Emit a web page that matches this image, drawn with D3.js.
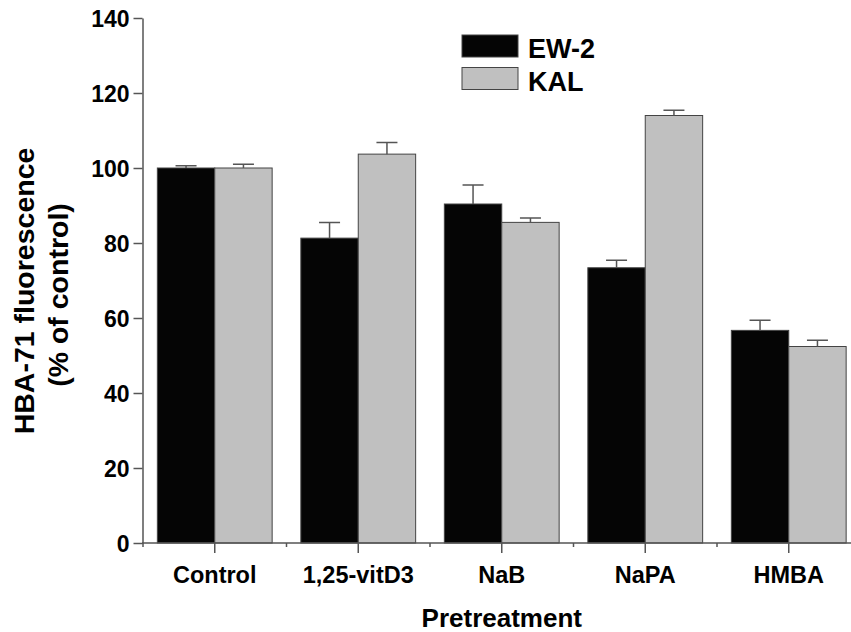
<!DOCTYPE html>
<html><head><meta charset="utf-8">
<script src="https://cdn.jsdelivr.net/npm/d3@7"></script>
<style>body{margin:0;background:#fff}svg{display:block}text{font-family:"Liberation Sans",Arial,sans-serif;font-weight:bold;fill:#000}</style>
</head><body><svg id="c" width="851" height="632"></svg>
<script>
const categories = ["Control", "1,25-vitD3", "NaB", "NaPA", "HMBA"];
const seriesNames = ["EW-2", "KAL"];
const ew2 = [100.0, 81.3, 90.4, 73.4, 56.7];
const ew2Err = [0.6, 4.2, 5.1, 2.0, 2.7];
const kal = [100.0, 103.7, 85.5, 114.0, 52.4];
const kalErr = [1.0, 3.1, 1.2, 1.4, 1.7];
const yTicks = [0, 20, 40, 60, 80, 100, 120, 140];
const colors = ["#050505", "#c0c0c0"];

const svg = d3.select("#c");
const x = d3.scaleBand().domain(categories).range([143, 860.5]).paddingInner(0.2).paddingOuter(0.1);
const xs = d3.scaleBand().domain(seriesNames).range([0, x.bandwidth()]);
const y = d3.scaleLinear().domain([0, 140]).range([543, 18]);

const data = categories.map((c, i) => ({c, vals: [
  {s: "EW-2", v: ew2[i], e: ew2Err[i]},
  {s: "KAL", v: kal[i], e: kalErr[i]}]}));

// bars
const g = svg.append("g");
const grp = g.selectAll("g.grp").data(data).join("g").attr("transform", d => `translate(${x(d.c)},0)`);
grp.selectAll("rect").data(d => d.vals).join("rect")
  .attr("x", d => xs(d.s)).attr("width", xs.bandwidth())
  .attr("y", d => y(d.v)).attr("height", d => y(0) - y(d.v))
  .attr("fill", (d, i) => colors[i]).attr("stroke", "#444").attr("stroke-width", 1);
// error bars
grp.selectAll("path.err").data(d => d.vals).join("path").attr("class", "err")
  .attr("d", d => {
    const cx = xs(d.s) + xs.bandwidth() / 2;
    return `M${cx},${y(d.v)}V${y(d.v + d.e)}M${cx - 10.5},${y(d.v + d.e)}H${cx + 10.5}`;
  })
  .attr("stroke", "#555").attr("stroke-width", 1.5).attr("fill", "none");

// y axis
const yAxis = d3.axisLeft(y).tickValues(yTicks).tickSize(9).tickPadding(4).tickSizeOuter(0);
const ya = svg.append("g").attr("transform", "translate(142.5,0)").call(yAxis);
ya.select(".domain").attr("stroke", "#555").attr("stroke-width", 1.5);
ya.selectAll(".tick line").attr("stroke", "#555").attr("stroke-width", 1.5);
ya.selectAll(".tick text").style("font-size", "23px").attr("fill", "#000").attr("dy", "0.36em");

// x axis
const xa = svg.append("g").attr("transform", "translate(0,543)");
xa.append("line").attr("x1", 142).attr("x2", 851).attr("stroke", "#555").attr("stroke-width", 1.5);
xa.selectAll("line.maj").data(categories).join("line").attr("class", "maj")
  .attr("x1", d => x(d) + x.bandwidth() / 2).attr("x2", d => x(d) + x.bandwidth() / 2)
  .attr("y1", 0).attr("y2", 10).attr("stroke", "#555").attr("stroke-width", 1.5);
xa.selectAll("line.min").data(categories).join("line").attr("class", "min")
  .attr("x1", d => x(d) - x.step() * x.paddingInner() / 2).attr("x2", d => x(d) - x.step() * x.paddingInner() / 2)
  .attr("y1", 0).attr("y2", 4).attr("stroke", "#555").attr("stroke-width", 1.5);
xa.selectAll("text").data(categories).join("text")
  .attr("x", d => x(d) + x.bandwidth() / 2).attr("y", 40)
  .attr("text-anchor", "middle").style("font-size", "23.5px").text(d => d);

// axis titles
svg.append("text").attr("x", x("NaB") + x.bandwidth() / 2).attr("y", 626.5)
  .attr("text-anchor", "middle").style("font-size", "26px").text("Pretreatment");
svg.append("text").attr("transform", "translate(34,291) rotate(-90)")
  .attr("text-anchor", "middle").style("font-size", "28.5px").text("HBA-71 fluorescence");
svg.append("text").attr("transform", "translate(68,295) rotate(-90)")
  .attr("text-anchor", "middle").style("font-size", "28.5px").text("(% of control)");

// legend
const lg = svg.append("g").selectAll("g").data(seriesNames).join("g")
  .attr("transform", (d, i) => `translate(462,${35 + i * 32.5})`);
lg.append("rect").attr("width", 56).attr("height", 22)
  .attr("fill", (d, i) => colors[i]).attr("stroke", "#444").attr("stroke-width", 1);
lg.append("text").attr("x", 66).attr("y", 23).style("font-size", "27px").text(d => d);
</script></body></html>
